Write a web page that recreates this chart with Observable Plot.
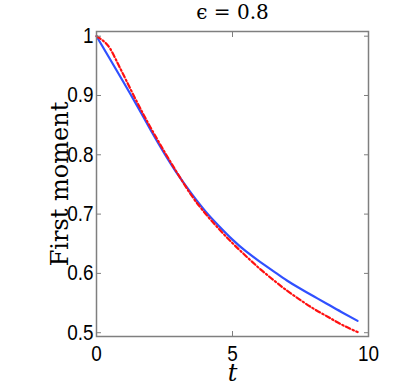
<!DOCTYPE html>
<html>
<head>
<meta charset="utf-8">
<script src="https://cdn.jsdelivr.net/npm/d3@7"></script>
<script src="https://cdn.jsdelivr.net/npm/@observablehq/plot@0.6"></script>
<style>
  html, body { margin: 0; padding: 0; background: #fff; }
</style>
</head>
<body>
<div id="chart"></div>
<script>
const titleText = "ϵ = 0.8";
const yLabel = "First moment";
const xLabel = "t";

const xTicks = [0, 5, 10];
const yTicks = [0.5, 0.6, 0.7, 0.8, 0.9, 1];

const tBlue = [0, 0.5, 1, 1.5, 2, 2.5, 3, 3.5, 4, 4.5, 5, 5.5, 6, 6.5, 7, 7.5, 8, 8.5, 9, 9.6];
const vBlue = [1.0, 0.961, 0.922, 0.882, 0.841, 0.802, 0.766, 0.734, 0.705, 0.680, 0.657, 0.637, 0.620, 0.604, 0.588, 0.574, 0.561, 0.548, 0.535, 0.520];

const tRed = [0, 0.25, 0.5, 0.75, 1, 1.5, 2, 2.5, 3, 3.5, 4, 4.5, 5, 5.5, 6, 6.5, 7, 7.5, 8, 8.5, 9, 9.6];
const vRed = [1.0, 0.992, 0.979, 0.957, 0.934, 0.888, 0.845, 0.805, 0.767, 0.731, 0.701, 0.675, 0.651, 0.629, 0.608, 0.589, 0.571, 0.555, 0.540, 0.527, 0.514, 0.501];

const blue = tBlue.map((t, i) => ({t, v: vBlue[i]}));
const red = tRed.map((t, i) => ({t, v: vRed[i]}));

const serif = "'DejaVu Serif', 'Liberation Serif', serif";
const axisColor = "#7f7f7f";

const chart = Plot.plot({
  width: 407,
  height: 382,
  marginLeft: 96,
  marginRight: 39,
  marginTop: 31,
  marginBottom: 46,
  style: {fontFamily: "'Liberation Sans', Arial, sans-serif", fontSize: "21.5px", color: "#000", background: "#fff"},
  x: {domain: [0, 10]},
  y: {domain: [0.4936, 1.0079]},
  marks: [
    Plot.line(blue, {x: "t", y: "v", stroke: "#3050ff", strokeWidth: 2.2, curve: "natural"}),
    Plot.line(red, {x: "t", y: "v", stroke: "#ff1010", strokeWidth: 2.2, curve: "natural", strokeDasharray: "5,2.5,1.5,2.5"}),
    Plot.frame({stroke: axisColor, strokeWidth: 1.5}),
    Plot.axisX({ticks: xTicks, tickSize: -5, tickPadding: 14, label: null, tickFormat: d => String(d), stroke: axisColor, fill: "#000"}),
    Plot.axisX({anchor: "top", ticks: xTicks, tickSize: -5, label: null, tickFormat: () => "", stroke: axisColor}),
    Plot.axisY({ticks: yTicks, tickSize: -5, tickPadding: 8, label: null, tickFormat: d => String(d), stroke: axisColor, fill: "#000"}),
    Plot.axisY({anchor: "right", ticks: yTicks, tickSize: -5, label: null, tickFormat: () => "", stroke: axisColor}),
    Plot.text([titleText], {text: d => d, frameAnchor: "top", dy: -13, lineAnchor: "bottom", fontFamily: serif, fontSize: 20, fill: "#000"}),
    Plot.text([yLabel], {text: d => d, frameAnchor: "left", dx: -29, rotate: -90, textAnchor: "middle", lineAnchor: "bottom", fontFamily: serif, fontSize: 24, fill: "#000"}),
    Plot.text([xLabel], {text: d => d, frameAnchor: "bottom", dy: 44, lineAnchor: "bottom", fontFamily: serif, fontStyle: "italic", fontSize: 24, fill: "#000"})
  ]
});
// Narrow (condensed) look of the tick labels, as in the reference
d3.select(chart).selectAll('g[aria-label$="tick label"] text').each(function() {
  const tr = this.getAttribute("transform") || "";
  this.setAttribute("transform", tr + " scale(0.88,1)");
});
document.getElementById("chart").appendChild(chart);
</script>
</body>
</html>
